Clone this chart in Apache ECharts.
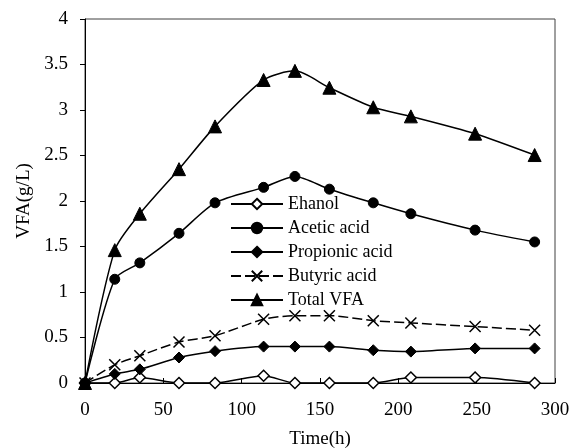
<!DOCTYPE html>
<html>
<head>
<meta charset="utf-8">
<script src="https://cdn.jsdelivr.net/npm/echarts@6/dist/echarts.min.js"></script>
<style>html,body{margin:0;padding:0;background:#fff;}#c{width:579px;height:448px;}</style>
</head>
<body>
<div id="c"></div>
<script>
const times = [0, 19, 35, 60, 83, 114, 134, 156, 184, 208, 249, 287];
const ethanol = [0, 0, 0.06, 0, 0, 0.08, 0, 0, 0, 0.06, 0.06, 0];
const acetic = [0, 1.14, 1.32, 1.645, 1.98, 2.15, 2.27, 2.13, 1.98, 1.86, 1.68, 1.55];
const propionic = [0, 0.1, 0.15, 0.28, 0.35, 0.40, 0.40, 0.40, 0.36, 0.345, 0.38, 0.38];
const butyric = [0, 0.2, 0.30, 0.45, 0.52, 0.70, 0.74, 0.74, 0.685, 0.66, 0.62, 0.58];
const totalVFA = [0, 1.46, 1.86, 2.35, 2.82, 3.33, 3.43, 3.245, 3.03, 2.93, 2.74, 2.505];
const names = ['Ehanol', 'Acetic acid', 'Propionic acid', 'Butyric acid', 'Total VFA'];

const font = 'Liberation Serif';
const pairs = arr => times.map((t, i) => [t, arr[i]]);
const xPath = 'path://M0 0L10 10M10 0L0 10';

function mk(name, arr, symbol, size, fill, dashed, bw) {
  return {
    name: name, type: 'line', data: pairs(arr), smooth: 0.25,
    symbol: symbol, symbolSize: size, showAllSymbol: true,
    lineStyle: { color: '#000', width: 1.5, type: dashed ? [10, 4] : 'solid' },
    itemStyle: { color: fill, borderColor: '#000', borderWidth: bw },
    emphasis: { disabled: true }, animation: false
  };
}

const chart = echarts.init(document.getElementById('c'), null, { renderer: 'canvas' });
chart.setOption({
  backgroundColor: '#fff',
  animation: false,
  grid: { left: 85, right: 24, top: 19, bottom: 65, containLabel: false, outerBoundsMode: 'none',
          show: true, borderColor: '#404040', borderWidth: 1 },
  xAxis: {
    type: 'value', min: 0, max: 300, interval: 50,
    name: 'Time(h)', nameLocation: 'middle', nameGap: 47,
    nameTextStyle: { fontFamily: font, fontSize: 19, color: '#000' },
    axisLine: { show: true, onZero: false, lineStyle: { color: '#000', width: 1 } },
    axisTick: { show: true, inside: true, length: 5, lineStyle: { color: '#000' } },
    axisLabel: { fontFamily: font, fontSize: 19, color: '#000', margin: 18 },
    splitLine: { show: false }
  },
  yAxis: {
    type: 'value', min: 0, max: 4, interval: 0.5,
    name: 'VFA(g/L)', nameLocation: 'middle', nameGap: 48,
    nameTextStyle: { fontFamily: font, fontSize: 19, color: '#000' },
    axisLine: { show: true, lineStyle: { color: '#000', width: 1 } },
    axisTick: { show: true, inside: false, length: 5, lineStyle: { color: '#000' } },
    axisLabel: { fontFamily: font, fontSize: 19, color: '#000', margin: 17 },
    splitLine: { show: false }
  },
  legend: {
    orient: 'vertical', left: 230, top: 195, padding: 0,
    itemWidth: 52, itemHeight: 13, itemGap: 6,
    textStyle: { fontFamily: font, fontSize: 18, color: '#000' },
    data: names
  },
  series: [
    mk(names[0], ethanol, 'diamond', 11, '#fff', false, 1.5),
    mk(names[1], acetic, 'circle', 10, '#000', false, 1),
    mk(names[2], propionic, 'diamond', 11, '#000', false, 1),
    mk(names[3], butyric, xPath, 11, 'none', true, 1.5),
    mk(names[4], totalVFA, 'triangle', 13, '#000', false, 1)
  ]
});
</script>
</body>
</html>
